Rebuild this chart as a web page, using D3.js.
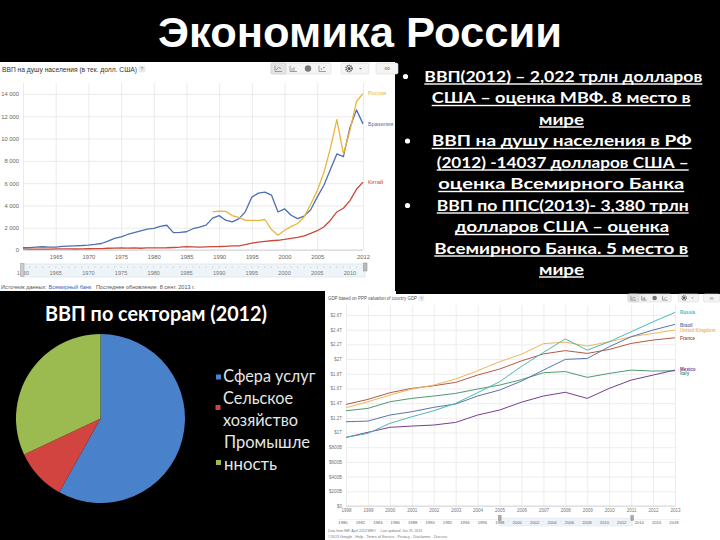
<!DOCTYPE html>
<html><head><meta charset="utf-8">
<script src="https://cdn.jsdelivr.net/npm/d3@7"></script>
<style>body{margin:0;background:#000}svg{display:block}</style>
</head><body><svg id="c" width="720" height="540"></svg>
<script>
// ---------------- DATA ----------------
const slideTitle = "Экономика России";

// Top-left: GDP per capita (current US$)
const perCapitaTitle = "ВВП на душу населения (в тек. долл. США)";
const perCapitaYears = d3.range(1960, 2013);
const brazilPerCapita = [210,208,250,293,259,257,322,349,379,405,
  445,502,583,799,1034,1172,1392,1560,1716,1877,
  1947,2120,2222,1561,1578,1636,1910,2063,2232,2857,
  3087,2676,2526,2792,3426,4749,5109,5193,4926,3413,
  3696,3118,2810,3039,3610,4743,5793,7197,8623,8373,
  10978,12576,11320];
const chinaPerCapita = [92,76,70,74,85,98,104,97,91,100,
  112,118,132,157,160,178,165,185,155,184,
  194,197,203,225,250,294,281,251,284,311,
  314,333,366,377,473,610,709,782,829,873,
  949,1042,1135,1274,1490,1731,2069,2651,3414,3749,
  4433,5447,6091];
const russiaYears = d3.range(1989, 2013);
const russiaPerCapita = [3428,3485,3470,3095,2929,2663,2665,2644,2737,1835,
  1331,1775,2100,2375,2976,4102,5323,6920,9101,11700,
  8616,10710,13324,14037];
const perCapitaSeriesNames = ["Россия","Бразилия","Китай"];
const perCapitaYTicks = [0,2000,4000,6000,8000,10000,12000,14000];
const perCapitaGridYears = [1960,1965,1970,1975,1980,1985,1990,1995,2000,2005,2012];
const perCapitaXLabels = [1965,1970,1975,1980,1985,1990,1995,2000,2005,2012];
const perCapitaSliderLabels = [1960,1965,1970,1975,1980,1985,1990,1995,2000,2005,2010];
const perCapitaSource = "Источник данных: ";
const perCapitaSourceLink = "Всемирный банк";
const perCapitaUpdated = "   Последнее обновление: 8 сент. 2013 г.";

// Right text
const factLines = [
  "ВВП(2012) – 2,022 трлн долларов",
  "США – оценка МВФ. 8 место в",
  "мире",
  "ВВП на душу населения в РФ",
  "(2012) -14037 долларов США –",
  "оценка Всемирного Банка",
  "ВВП по ППС(2013)- 3,380 трлн",
  "долларов США – оценка",
  "Всемирного Банка. 5 место в",
  "мире"
];
const bulletLineIdx = [0,3,6];

// Pie: GDP by sector (2012)
const pieTitle = "ВВП по секторам (2012)";
const sectorNames = ["Сфера услуг","Сельское хозяйство","Промышленность"];
const sectorLegendLines = [["Сфера услуг"],["Сельское","хозяйство"],["Промышле","нность"]];
const sectorShares = [58.1, 9.9, 32.0];

// Bottom-right: GDP based on PPP (trillion $)
const pppTitle = "GDP based on PPP valuation of country GDP";
const pppYears = d3.range(1998, 2014);
const pppCountries = ["Russia","Brazil","United Kingdom","France","Mexico","Italy"];
const pppRussia = [0.934,0.989,1.125,1.215,1.297,1.397,1.542,1.691,1.900,2.090,2.275,2.122,2.236,2.372,2.508,2.635];
const pppBrazil = [1.147,1.156,1.238,1.283,1.343,1.388,1.497,1.578,1.700,1.850,1.996,2.009,2.168,2.304,2.395,2.472];
const pppUK     = [1.337,1.419,1.510,1.592,1.646,1.728,1.841,1.964,2.065,2.210,2.230,2.177,2.236,2.304,2.349,2.395];
const pppFrance = [1.383,1.451,1.542,1.601,1.637,1.683,1.782,1.864,1.975,2.070,2.115,2.077,2.131,2.213,2.259,2.290];
const pppMexico = [0.934,1.003,1.071,1.088,1.102,1.138,1.238,1.306,1.413,1.497,1.548,1.465,1.601,1.714,1.782,1.850];
const pppItaly  = [1.297,1.329,1.419,1.465,1.497,1.533,1.592,1.646,1.720,1.814,1.830,1.751,1.805,1.850,1.837,1.841];
const pppYTicks = [0,0.2,0.4,0.6,0.8,1.0,1.2,1.4,1.6,1.8,2.0,2.2,2.4,2.6];
const pppYLabels = ["$0","$200B","$400B","$600B","$800B","$1T","$1.2T","$1.4T","$1.6T","$1.8T","$2T","$2.2T","$2.4T","$2.6T"];
const pppSliderLabels = [1980,1982,1984,1986,1988,1990,1992,1994,1996,1998,2000,2002,2004,2006,2008,2010,2012,2014,2016,2018];
const pppFooter1 = "Data from IMF, April 2013 WEO     Last updated: Jun 29, 2013";
const pppFooter2 = "©2013 Google - Help - Terms of Service - Privacy - Disclaimer - Discuss";

// ---------------- DRAW ----------------
const gf = '"Liberation Sans", Arial, sans-serif';
const svg = d3.select('#c');
svg.append('rect').attr('width',720).attr('height',540).attr('fill','#000');

svg.append('text').attr('x',360).attr('y',47).attr('text-anchor','middle')
  .attr('font-family',gf).attr('font-weight',700).attr('font-size',42)
  .attr('fill','#fff').attr('textLength',404).attr('lengthAdjust','spacingAndGlyphs')
  .text(slideTitle);

function styleAxis(g, size, color, gridColor){
  g.select('.domain').remove();
  g.selectAll('line').attr('stroke', gridColor).attr('stroke-width',0.8);
  g.selectAll('text').attr('fill',color).attr('font-size',size).attr('font-family',gf);
}
function toolbar(g, x0, y0, s){
  // group of 4 chart-type buttons, settings and link
  g.append('rect').attr('x',x0).attr('y',y0).attr('width',60*s).attr('height',11*s).attr('rx',1.5)
    .attr('fill','#f4f4f4').attr('stroke','#dadada').attr('stroke-width',0.6);
  g.append('rect').attr('x',x0).attr('y',y0).attr('width',15*s).attr('height',11*s).attr('rx',1.5)
    .attr('fill','#e4e4e4').attr('stroke','#cfcfcf').attr('stroke-width',0.6);
  const c = '#888';
  g.append('path').attr('d',`M${x0+4*s},${y0+2.5*s}V${y0+8.5*s}H${x0+11*s}M${x0+5*s},${y0+7*s}L${x0+7.5*s},${y0+4.5*s}L${x0+10*s},${y0+5.5*s}`)
    .attr('fill','none').attr('stroke',c).attr('stroke-width',0.8);
  g.append('path').attr('d',`M${x0+19*s},${y0+2.5*s}V${y0+8.5*s}H${x0+26*s}M${x0+21*s},${y0+8*s}V${y0+5*s}M${x0+23*s},${y0+8*s}V${y0+4*s}`)
    .attr('fill','none').attr('stroke',c).attr('stroke-width',0.8);
  g.append('circle').attr('cx',x0+37*s).attr('cy',y0+5.5*s).attr('r',3.2*s).attr('fill','#777');
  g.append('path').attr('d',`M${x0+48*s},${y0+2.5*s}V${y0+8.5*s}H${x0+55*s}`).attr('fill','none').attr('stroke',c).attr('stroke-width',0.8);
  g.append('circle').attr('cx',x0+50.5*s).attr('cy',y0+6*s).attr('r',0.8*s).attr('fill',c);
  g.append('circle').attr('cx',x0+53*s).attr('cy',y0+4.5*s).attr('r',0.8*s).attr('fill',c);
  // settings
  g.append('rect').attr('x',x0+70*s).attr('y',y0).attr('width',28*s).attr('height',11*s).attr('rx',1.5)
    .attr('fill','#f4f4f4').attr('stroke','#dadada').attr('stroke-width',0.6);
  g.append('circle').attr('cx',x0+78*s).attr('cy',y0+5.5*s).attr('r',3*s).attr('fill','none').attr('stroke','#555').attr('stroke-width',1.6*s).attr('stroke-dasharray',`${1.2*s},${0.7*s}`);
  g.append('circle').attr('cx',x0+78*s).attr('cy',y0+5.5*s).attr('r',1.6*s).attr('fill','#555');
  g.append('path').attr('d',`M${x0+88*s},${y0+5*s}l${1.5*s},${1.5*s}l${1.5*s},${-1.5*s}z`).attr('fill','#777');
  // link
  g.append('rect').attr('x',x0+105*s).attr('y',y0).attr('width',22*s).attr('height',11*s).attr('rx',1.5)
    .attr('fill','#f4f4f4').attr('stroke','#dadada').attr('stroke-width',0.6);
  g.append('text').attr('x',x0+116*s).attr('y',y0+8*s).attr('text-anchor','middle').attr('font-size',8*s)
    .attr('font-family',gf).attr('fill','#777').text('∞');
}
function helpBox(g, x, y, s){
  g.append('rect').attr('x',x).attr('y',y).attr('width',6*s).attr('height',6*s).attr('rx',1)
    .attr('fill','#eee').attr('stroke','#ddd').attr('stroke-width',0.5);
  g.append('text').attr('x',x+3*s).attr('y',y+4.8*s).attr('text-anchor','middle')
    .attr('font-size',5*s).attr('font-family',gf).attr('fill','#777').text('?');
}

// ===== Top-left: GDP per capita =====
const A = svg.append('g');
A.append('rect').attr('x',0).attr('y',62).attr('width',395).attr('height',229).attr('fill','#fff');
A.append('text').attr('x',2).attr('y',71.5).attr('font-size',6.3).attr('font-family',gf).attr('fill','#333')
  .attr('textLength',135).attr('lengthAdjust','spacingAndGlyphs').text(perCapitaTitle);
helpBox(A, 139, 66, 1);
toolbar(A, 271, 63, 1);

const xA = d3.scaleLinear().domain([1960,2012]).range([23,363]);
const yA = d3.scaleLinear().domain([0,14000]).range([250,94]);
A.append('g').attr('transform','translate(23,0)')
  .call(d3.axisLeft(yA).tickValues(perCapitaYTicks).tickSize(-340).tickPadding(4)
    .tickFormat(d => d3.format(',')(d).replace(/,/g,' ')))
  .call(g => styleAxis(g, 5.8, '#666', '#e6e6e6'));
A.append('g').attr('transform','translate(0,250)')
  .call(d3.axisBottom(xA).tickValues(perCapitaGridYears).tickSize(-(250-83)).tickPadding(4.5)
    .tickFormat(d => perCapitaXLabels.includes(d) ? String(d) : ''))
  .call(g => styleAxis(g, 5.8, '#666', '#e6e6e6'));
A.append('line').attr('x1',xA(1960)).attr('x2',xA(2012)).attr('y1',yA(0)).attr('y2',yA(0))
  .attr('stroke','#cfcfcf').attr('stroke-width',0.9);

const lineA = d3.line().x(d => xA(d[0])).y(d => yA(d[1]));
const seriesA = [
  {name: perCapitaSeriesNames[2], years: perCapitaYears, vals: chinaPerCapita, color:'#c94a3a'},
  {name: perCapitaSeriesNames[1], years: perCapitaYears, vals: brazilPerCapita, color:'#4d6fb3'},
  {name: perCapitaSeriesNames[0], years: russiaYears, vals: russiaPerCapita, color:'#e9b53c'}
];
seriesA.forEach(s => {
  A.append('path').datum(s.years.map((y,i)=>[y, s.vals[i]])).attr('d', lineA)
    .attr('fill','none').attr('stroke', s.color).attr('stroke-width',1.3).attr('stroke-linejoin','round');
});
const labelYA = {"Россия": 95, "Бразилия": 126, "Китай": 184};
seriesA.forEach(s => {
  A.append('text').attr('x', xA(2012)+5).attr('y', labelYA[s.name]).attr('font-size',5.6)
    .attr('font-family',gf).attr('fill', s.color).text(s.name);
});
// slider
A.append('rect').attr('x',22).attr('y',264).attr('width',343).attr('height',13)
  .attr('fill','#eef4f7').attr('stroke','#d5e1e8').attr('stroke-width',0.7);
A.selectAll('.tkA').data(perCapitaYears).enter().append('line')
  .attr('x1', d => xA(d)).attr('x2', d => xA(d)).attr('y1',266.5).attr('y2',268)
  .attr('stroke','#b9c6cf').attr('stroke-width',0.7);
A.selectAll('.slA').data(perCapitaSliderLabels).enter().append('text')
  .attr('x', d => xA(d)).attr('y',275).attr('text-anchor','middle').attr('font-size',5.6)
  .attr('font-family',gf).attr('fill','#777').text(d => d);
A.append('rect').attr('x',20.5).attr('y',263.5).attr('width',3.5).attr('height',13)
  .attr('fill','#ccc').attr('stroke','#999').attr('stroke-width',0.5);
A.append('rect').attr('x',363.5).attr('y',263).attr('width',3.5).attr('height',8)
  .attr('fill','#bbb').attr('stroke','#888').attr('stroke-width',0.5);
const srcA = A.append('text').attr('x',1).attr('y',289).attr('font-size',5.4).attr('font-family',gf)
  .attr('fill','#555').attr('textLength',194).attr('lengthAdjust','spacingAndGlyphs');
srcA.append('tspan').text(perCapitaSource);
srcA.append('tspan').attr('fill','#3a66c4').text(perCapitaSourceLink);
srcA.append('tspan').attr('xml:space','preserve').text(perCapitaUpdated);

// ===== Right text =====
const T = svg.append('g');
const factLeft = [424.3,431.7,539,431.7,436.7,438.3,436.7,455,434.3,539];
const factWidth = [278,259,45,260,252,246,252,214,254,45];
const factBase = [81.5,103,124.5,146,167.5,189,210.5,232,253.5,274.5];
factLines.forEach((t,i) => {
  T.append('text').attr('x',factLeft[i]).attr('y',factBase[i]).attr('font-family','Lato, "Open Sans", sans-serif')
    .attr('font-weight',700).attr('font-size',15.5).attr('fill','#fff')
    .attr('textLength',factWidth[i]).attr('lengthAdjust','spacingAndGlyphs').text(t);
  T.append('rect').attr('x',factLeft[i]).attr('y',factBase[i]+1.8).attr('width',factWidth[i]).attr('height',1.4).attr('fill','#fff');
});
const bulletX = [405.5,407.5,407.5];
bulletLineIdx.forEach((li,k) => {
  T.append('circle').attr('cx',bulletX[k]).attr('cy',factBase[li]-5).attr('r',2.6).attr('fill','#fff');
});

// ===== Pie =====
const P = svg.append('g');
P.append('text').attr('x',156).attr('y',321).attr('text-anchor','middle')
  .attr('font-family','Lato, "Open Sans", sans-serif').attr('font-weight',700).attr('font-size',21)
  .attr('fill','#fff').attr('textLength',222).attr('lengthAdjust','spacingAndGlyphs').text(pieTitle);
const pieColors = ['#4a81cb','#d1443f','#9bba50'];
const pie = d3.pie().sort(null).value(d => d);
const arc = d3.arc().innerRadius(0).outerRadius(84.5);
P.append('g').attr('transform','translate(100.5,418.5)')
  .selectAll('path').data(pie(sectorShares)).enter().append('path')
  .attr('d', arc).attr('fill', (d,i) => pieColors[i]);
const legSq = [[216,374.5],[215.5,405],[216,460]];
const legLineX = [223.3,223,224];
const legBase = [[382],[403.5,425.5],[448,469.5]];
const legW = [[92],[70,75],[86,53]];
sectorLegendLines.forEach((lines,i) => {
  P.append('rect').attr('x',legSq[i][0]).attr('y',legSq[i][1]).attr('width',5).attr('height',5).attr('fill',pieColors[i]);
  lines.forEach((t,j) => {
    P.append('text').attr('x',legLineX[i]).attr('y',legBase[i][j]).attr('font-family','Lato, "Open Sans", sans-serif')
      .attr('font-size',17).attr('fill','#e6e6e6').attr('textLength',legW[i][j]).attr('lengthAdjust','spacingAndGlyphs').text(t);
  });
});

// ===== Bottom-right: GDP PPP =====
const B = svg.append('g');
B.append('rect').attr('x',325).attr('y',291).attr('width',395).attr('height',249).attr('fill','#fff');
B.append('rect').attr('x',396).attr('y',289).attr('width',324).attr('height',5).attr('fill','#000');
B.append('text').attr('x',328).attr('y',300).attr('font-size',4.6).attr('font-family',gf).attr('fill','#555')
  .attr('textLength',89).attr('lengthAdjust','spacingAndGlyphs').text(pppTitle);
helpBox(B, 419, 296, 0.8);
toolbar(B, 628, 294, 0.72);

const xB = d3.scaleLinear().domain([1998,2013]).range([346,675]);
const yB = d3.scaleLinear().domain([0,2.6]).range([506,315]);
B.append('g').attr('transform','translate(346,0)')
  .call(d3.axisLeft(yB).tickValues(pppYTicks).tickSize(-329).tickPadding(4)
    .tickFormat((d,i) => pppYLabels[i]))
  .call(g => styleAxis(g, 4.5, '#777', '#e8e8e8'));
B.append('g').attr('transform','translate(0,506)')
  .call(d3.axisBottom(xB).tickValues(pppYears).tickSize(-(506-305)).tickPadding(2.5).tickFormat(d => String(d)))
  .call(g => styleAxis(g, 4.5, '#777', '#e8e8e8'));
B.append('line').attr('x1',346).attr('x2',675).attr('y1',506).attr('y2',506).attr('stroke','#cfcfcf').attr('stroke-width',0.8);

const lineB = d3.line().x((d,i) => xB(pppYears[i])).y(d => yB(d));
const seriesB = [
  {name: pppCountries[5], vals: pppItaly,  color:'#4f9a72', ly: 374.5},
  {name: pppCountries[4], vals: pppMexico, color:'#7a3d8f', ly: 370.5},
  {name: pppCountries[3], vals: pppFrance, color:'#b45a45', ly: 339.5},
  {name: pppCountries[2], vals: pppUK,     color:'#efb65a', ly: 332},
  {name: pppCountries[1], vals: pppBrazil, color:'#5a76a6', ly: 326.5},
  {name: pppCountries[0], vals: pppRussia, color:'#4fb8b5', ly: 314}
];
seriesB.forEach(s => {
  B.append('path').datum(s.vals).attr('d', lineB).attr('fill','none')
    .attr('stroke', s.color).attr('stroke-width',1).attr('stroke-linejoin','round');
  B.append('text').attr('x',680).attr('y',s.ly).attr('font-size',4.6).attr('font-weight',700)
    .attr('font-family',gf).attr('fill',s.color).text(s.name);
});
// slider
const xS = d3.scaleLinear().domain([1980,2018]).range([343,674]);
B.append('line').attr('x1',338).attr('x2',680).attr('y1',519.5).attr('y2',519.5).attr('stroke','#e6e6e6').attr('stroke-width',0.6);
B.append('rect').attr('x',xS(1998)).attr('y',518).attr('width',xS(2013.2)-xS(1998)).attr('height',8)
  .attr('fill','#eef3f8').attr('stroke','#d9e2ea').attr('stroke-width',0.5);
B.selectAll('.slB').data(pppSliderLabels).enter().append('text')
  .attr('x', d => xS(d)).attr('y',524).attr('text-anchor','middle').attr('font-size',4.2)
  .attr('font-family',gf).attr('fill','#666').text(d => d);
B.selectAll('.sdB').data(pppSliderLabels).enter().append('text')
  .attr('x', d => xS(d)+8.7).attr('y',523.5).attr('text-anchor','middle').attr('font-size',4)
  .attr('font-family',gf).attr('fill','#aaa').text("'");
[1998,2013.2].forEach(v => {
  B.append('rect').attr('x',xS(v)-1.3).attr('y',515.5).attr('width',2.6).attr('height',5)
    .attr('fill','#aaa').attr('stroke','#777').attr('stroke-width',0.4);
});
B.append('text').attr('x',328).attr('y',531.5).attr('font-size',3.6).attr('font-family',gf).attr('fill','#777')
  .attr('xml:space','preserve').attr('textLength',94).attr('lengthAdjust','spacingAndGlyphs').text(pppFooter1);
B.append('text').attr('x',328).attr('y',537.5).attr('font-size',3.6).attr('font-family',gf).attr('fill','#777')
  .attr('textLength',119).attr('lengthAdjust','spacingAndGlyphs').text(pppFooter2);
</script>
</body></html>
